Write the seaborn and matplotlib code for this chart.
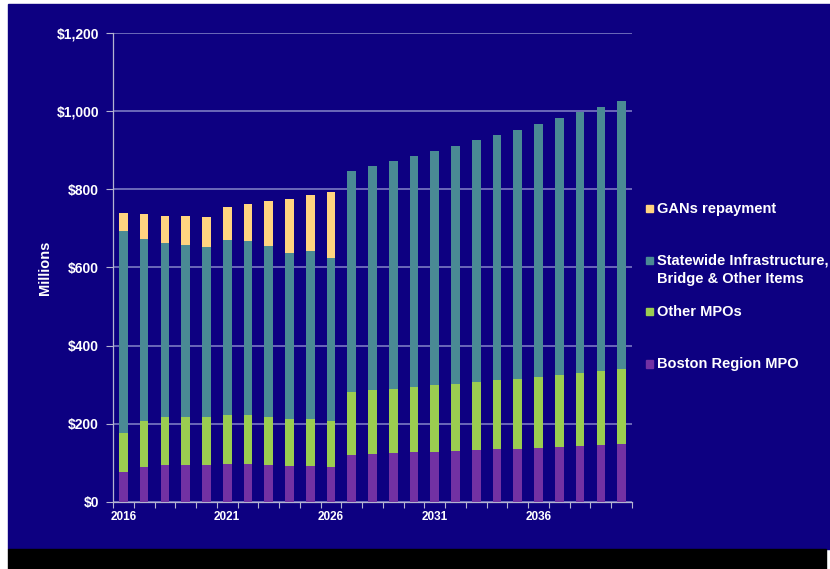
import matplotlib
matplotlib.use("Agg")
import matplotlib.pyplot as plt
from matplotlib.patches import Rectangle
from matplotlib.ticker import FuncFormatter, MultipleLocator, FixedLocator
import numpy as np
import pandas as pd
import seaborn as sns

# Funding by category, millions of dollars per year
years = list(range(2016, 2041))
boston_mpo = [76, 89, 94, 94, 94, 97, 97, 94, 92, 92, 90,
              120, 122, 124, 126, 128, 130, 132, 134, 136, 138, 140, 142, 144, 147]
other_mpos = [99, 118, 123, 123, 123, 125, 125, 123, 120, 120, 117,
              160, 163, 165, 168, 170, 172, 174, 177, 179, 182, 185, 188, 191, 193]
statewide = [518, 467, 445, 440, 434, 448, 445, 437, 424, 429, 417,
             567, 574, 583, 591, 600, 610, 619, 628, 638, 647, 657, 668, 677, 687]
gans = [46, 62, 70, 74, 79, 84, 95, 115, 139, 145, 168,
        0, 0, 0, 0, 0, 0, 0, 0, 0, 0, 0, 0, 0, 0]

series_names = ["Boston Region MPO", "Other MPOs",
                "Statewide Infrastructure,\nBridge & Other Items", "GANs repayment"]
series_values = [boston_mpo, other_mpos, statewide, gans]
series_colors = ["#7231a3", "#9bcd50", "#4a8a94", "#ffd480"]

NAVY = "#0d0081"
GRID = "#8585c8"
SPINE = "#b4b4d0"

sns.set_theme(style="white")
plt.rcParams["font.family"] = ["Liberation Sans", "DejaVu Sans"]
plt.rcParams["font.weight"] = "bold"

W, H = 830, 569
fig = plt.figure(figsize=(W / 100, H / 100), dpi=100, facecolor="white")

def fx(px):
    return px / W

def fy(py):
    return 1 - py / H

# slide background and bottom strip
fig.patches.append(Rectangle((fx(8), fy(549)), fx(830) - fx(8), fy(4) - fy(549),
                             transform=fig.transFigure, color=NAVY, zorder=-10))
fig.patches.append(Rectangle((fx(8), fy(569)), fx(826) - fx(8), fy(549) - fy(569),
                             transform=fig.transFigure, color="black", zorder=-10))

ax = fig.add_axes([fx(113), fy(501.7), fx(632) - fx(113), fy(33.1) - fy(501.7)])
ax.set_zorder(2)
ax.set_facecolor(NAVY)
ax.patch.set_alpha(0)

df = pd.DataFrame({"year": [str(y) for y in years]})
cum = np.zeros(len(years))
cums = []
for vals in series_values:
    cum = cum + np.array(vals, dtype=float)
    cums.append(cum.copy())

# stacked bars: draw cumulative totals from the top layer down
for name, total, color in reversed(list(zip(series_names, cums, series_colors))):
    d = df.assign(total=total)
    sns.barplot(data=d, x="year", y="total", color=color, width=0.42,
                saturation=1, ax=ax, zorder=3, linewidth=0)

ax.set_xlim(-0.5, len(years) - 0.5)
ax.set_ylim(0, 1200)
ax.yaxis.set_major_locator(MultipleLocator(200))
ax.yaxis.set_major_formatter(FuncFormatter(lambda v, p: f"${v:,.0f}"))
ax.grid(axis="y", color=GRID, linewidth=1.1, zorder=1)
ax.grid(axis="x", visible=False)
ax.set_axisbelow(True)

label_idx = [0, 5, 10, 15, 20]
ax.xaxis.set_major_locator(FixedLocator(label_idx))
ax.set_xticklabels([str(years[i]) for i in label_idx])
ax.xaxis.set_minor_locator(FixedLocator(np.arange(-0.5, len(years), 1.0)))
ax.tick_params(axis="x", which="major", length=0, pad=7, labelsize=8.5,
               labelcolor="white")
ax.tick_params(axis="x", which="minor", length=4, width=0.8, color=SPINE,
               direction="out", bottom=True)
ax.tick_params(axis="y", length=5, width=0.8, color=SPINE, direction="out",
               left=True, labelsize=10, labelcolor="white", pad=5)
for lab in ax.get_xticklabels() + ax.get_yticklabels():
    lab.set_fontweight("bold")

for side in ["top", "right"]:
    ax.spines[side].set_visible(False)
for side in ["left", "bottom"]:
    ax.spines[side].set_color(SPINE)
    ax.spines[side].set_linewidth(0.9)

ax.set_xlabel("")
ax.set_ylabel("")
fig.text(fx(45), fy(268), "Millions", rotation=90, color="white",
         fontsize=10.5, fontweight="bold", ha="center", va="center")

# legend entries, top to bottom
legend_rows = [(3, 208.5), (2, 269.5), (1, 311.5), (0, 364)]
for idx, yc in legend_rows:
    sq_y = yc if idx != 2 else 260.5
    fig.patches.append(Rectangle((fx(645.5), fy(sq_y + 3.8)), fx(7.6), fy(0) - fy(7.6),
                                 transform=fig.transFigure, color=series_colors[idx],
                                 zorder=3))
    fig.text(fx(657), fy(yc), series_names[idx], color="white", fontsize=10.5,
             fontweight="bold", ha="left", va="center", linespacing=1.45)

fig.savefig("out.png", dpi=100, facecolor="white")
